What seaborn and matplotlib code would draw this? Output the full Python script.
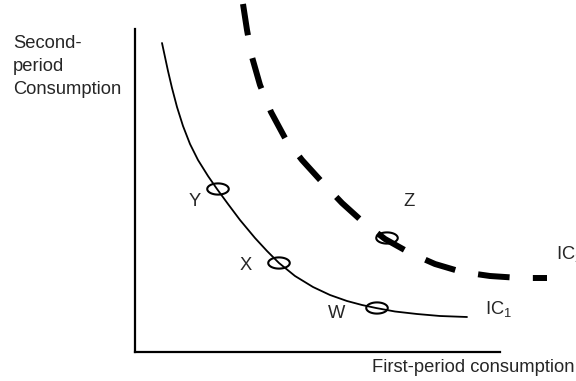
import numpy as np
import pandas as pd
import matplotlib
matplotlib.use("Agg")
import matplotlib.pyplot as plt
from matplotlib.path import Path
import seaborn as sns

# ---- data (chart units: pixel-like canvas coordinates) ----
ic1_x = [162, 165, 168, 172, 177, 183, 190, 198, 208, 217, 228, 240, 255, 267,
         279, 295, 313, 330, 347, 362, 376, 395, 417, 440, 467]
ic1_y = [43, 57, 71, 88, 107, 126, 144, 160, 176, 189, 204, 220, 238, 251,
         263, 276, 287, 295, 301, 305, 308, 311.5, 314, 316, 317]

ic2_x = [243, 247, 252, 260, 271, 285, 302, 322, 342, 363, 385, 410, 435, 462, 490, 520, 547]
ic2_y = [4, 30, 57, 85, 112, 138, 160, 182, 203, 222, 239, 253, 264, 272, 276, 278, 278]

point_names = ["Y", "X", "W", "Z"]
point_x = [218, 279, 377, 387]
point_y = [189, 263, 308, 238]
label_x = [195, 246, 337, 409]
label_y = [202, 266, 313, 202]

curve_names = ["IC$_1$", "IC$_2$"]
curve_label_x = [485, 556]
curve_label_y = [309, 254]

y_title = "Second-\nperiod\nConsumption"
x_title = "First-period consumption"

# ---- style ----
sns.set_style("white")
plt.rcParams["font.family"] = ["Liberation Sans", "DejaVu Sans"]
plt.rcParams["mathtext.fontset"] = "custom"
plt.rcParams["mathtext.rm"] = "Liberation Sans"
plt.rcParams["mathtext.it"] = "Liberation Sans"

FS = 13.2

fig = plt.figure(figsize=(5.76, 3.81), dpi=100)
ax = fig.add_axes([0, 0, 1, 1])
ax.set_xlim(0, 576)
ax.set_ylim(381, 0)

ic1 = pd.DataFrame({"x": ic1_x, "y": ic1_y})
ic2 = pd.DataFrame({"x": ic2_x, "y": ic2_y})

sns.lineplot(data=ic1, x="x", y="y", sort=False, estimator=None, ax=ax,
             color="black", linewidth=1.3)
ax.lines[-1].set_solid_joinstyle("round")
lw2 = 4.3
sns.lineplot(data=ic2, x="x", y="y", sort=False, estimator=None, ax=ax,
             color="black", linewidth=lw2)
ax.lines[-1].set_dashes((5.3, 3.9))
ax.lines[-1].set_dash_capstyle("butt")

# ellipse marker
t = np.linspace(0, 2 * np.pi, 60)
verts = np.column_stack([np.cos(t), 0.52 * np.sin(t)])
ell = Path(verts, closed=True)
pts = pd.DataFrame({"x": point_x, "y": point_y})
sns.scatterplot(data=pts, x="x", y="y", ax=ax, marker=ell, s=15.5 ** 2,
                facecolor="none", edgecolor="black", linewidth=1.5, zorder=5)

for nm, lx, ly in zip(point_names, label_x, label_y):
    ax.text(lx, ly, nm, fontsize=FS, ha="center", va="center")
for nm, lx, ly in zip(curve_names, curve_label_x, curve_label_y):
    ax.text(lx, ly, nm, fontsize=FS, ha="left", va="center")

ax.text(13, 35, y_title, fontsize=FS, ha="left", va="top", linespacing=1.45)
ax.text(372, 368, x_title, fontsize=FS, ha="left", va="center")

for s in ["top", "right"]:
    ax.spines[s].set_visible(False)
ax.spines["left"].set_position(("data", 135))
ax.spines["left"].set_bounds(29, 352)
ax.spines["bottom"].set_position(("data", 352))
ax.spines["bottom"].set_bounds(135, 500)
for s in ["left", "bottom"]:
    ax.spines[s].set_linewidth(1.6)
    ax.spines[s].set_color("black")
ax.set_xticks([])
ax.set_yticks([])
ax.set_xlabel("")
ax.set_ylabel("")
ax.patch.set_alpha(0)

fig.savefig("out.png", dpi=100, facecolor="white")
